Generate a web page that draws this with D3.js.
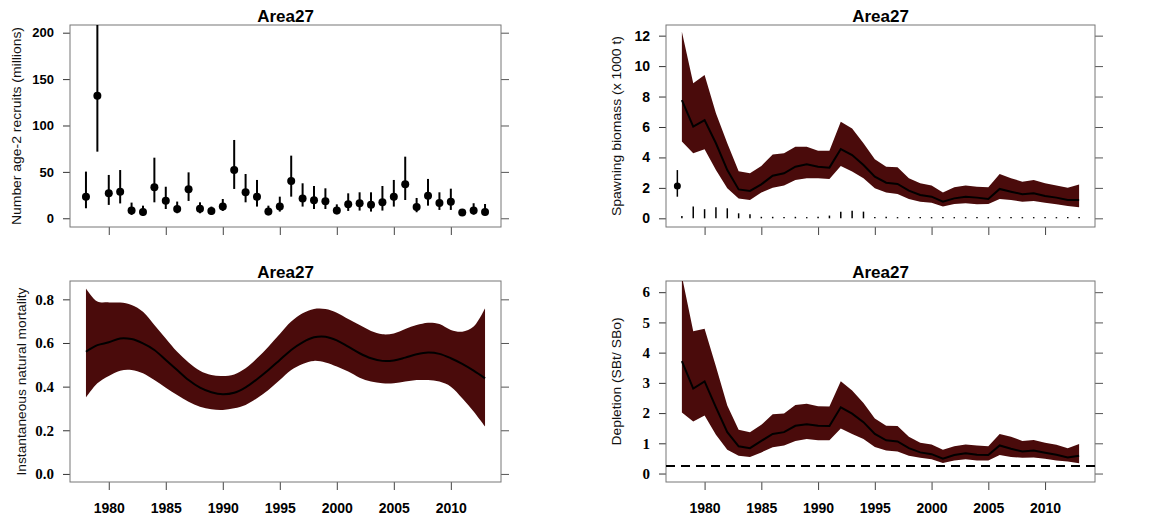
<!DOCTYPE html>
<html>
<head>
<meta charset="utf-8">
<script src="https://cdn.jsdelivr.net/npm/d3@7"></script>
<style>
  body { margin: 0; background: #fff; }
  svg { display: block; }
</style>
</head>
<body>
<svg id="chart" width="1156" height="519"></svg>
<script>
// years shared by every panel
const years = d3.range(1978, 2014);
const xTicks = [1980, 1985, 1990, 1995, 2000, 2005, 2010];

// recruits (millions)
const recMed = [23.3, 132, 27, 28.7, 8.3, 6.8, 33.4, 19, 10, 31.2, 10.4, 7.9, 12.6, 52, 28, 23.3, 7.2, 12.6,
  40.2, 21.2, 19.4, 18.3, 8.3, 15, 16.2, 14.7, 17.2, 23.3, 36.6, 12.2, 24.4, 16.5, 17.9, 6.1, 8.3, 6.8];
const recLo = [10.8, 71.8, 14.4, 16, 3.6, 2.5, 17.2, 10, 5.4, 18.7, 5.4, 3.6, 7.9, 31.6, 17.2, 12.6, 3.2, 7.2,
  23.3, 12.6, 10, 10, 4.3, 7.9, 8.3, 7.2, 8.3, 12.6, 19.7, 6.5, 13.6, 9, 9, 2.9, 3.9, 3.2];
const recHi = [50.3, 260, 46.7, 52, 16.9, 13.6, 65.3, 34, 18, 49.5, 17.2, 12.6, 20.8, 84.4, 47.7, 41.3, 13.6, 23.3,
  67.5, 37.7, 34.8, 32.3, 15, 26.9, 28, 28, 34.8, 41.3, 66.4, 21.9, 42.4, 28, 31.9, 9.7, 16.2, 15.4];
const recTicks = [0, 50, 100, 150, 200];

// spawning biomass (x 1000 t)
const sbMed = [7.77, 6.02, 6.45, 4.93, 3.17, 1.9, 1.8, 2.23, 2.8, 2.96, 3.39, 3.55, 3.39, 3.33, 4.55, 4.16, 3.5, 2.74,
  2.34, 2.26, 1.82, 1.53, 1.42, 1.09, 1.31, 1.42, 1.36, 1.27, 1.93, 1.75, 1.58, 1.64, 1.47, 1.36, 1.2, 1.2];
const sbLo = [5.04, 4.27, 4.53, 3.17, 1.97, 1.31, 1.2, 1.69, 2.01, 2.15, 2.52, 2.63, 2.63, 2.58, 3.44, 3.07, 2.63, 1.97,
  1.69, 1.6, 1.27, 1.09, 1.03, 0.77, 0.94, 0.99, 0.92, 0.94, 1.27, 1.2, 1.09, 1.14, 1.03, 0.92, 0.81, 0.72];
const sbHi = [12.26, 8.87, 9.42, 6.9, 4.93, 3.1, 2.96, 3.44, 4.2, 4.27, 4.7, 4.7, 4.44, 4.44, 6.35, 5.9, 4.93, 3.88,
  3.39, 3.35, 2.63, 2.3, 2.15, 1.7, 2.04, 2.15, 2.08, 2.04, 2.91, 2.63, 2.41, 2.52, 2.3, 2.15, 2.01, 2.23];
const sbCatch = [0.15, 0.77, 0.6, 0.72, 0.66, 0.33, 0.26, 0.1, 0.1, 0.08, 0.1, 0.08, 0.1, 0.18, 0.44, 0.5, 0.44, 0.08,
  0.1, 0.08, 0.08, 0.08, 0.08, 0.08, 0.08, 0.08, 0.08, 0.08, 0.08, 0.08, 0.08, 0.08, 0.08, 0.08, 0.08, 0.08];
const sb0 = { year: 1977.6, value: 2.12, lo: 1.42, hi: 3.17 };
const sbTicks = [0, 2, 4, 6, 8, 10, 12];

// natural mortality
const mMed = [0.56, 0.59, 0.603, 0.621, 0.618, 0.598, 0.568, 0.522, 0.476, 0.43, 0.395, 0.374, 0.365, 0.372, 0.397,
  0.434, 0.476, 0.522, 0.568, 0.603, 0.626, 0.629, 0.612, 0.583, 0.553, 0.53, 0.518, 0.52, 0.533, 0.548, 0.556,
  0.55, 0.53, 0.504, 0.473, 0.438];
const mLo = [0.35, 0.415, 0.449, 0.473, 0.476, 0.461, 0.43, 0.395, 0.362, 0.331, 0.308, 0.296, 0.293, 0.301, 0.316,
  0.347, 0.385, 0.43, 0.476, 0.504, 0.518, 0.511, 0.492, 0.469, 0.441, 0.423, 0.415, 0.415, 0.423, 0.43, 0.43,
  0.423, 0.4, 0.347, 0.286, 0.217];
const mHi = [0.85, 0.79, 0.786, 0.785, 0.774, 0.743, 0.682, 0.621, 0.56, 0.511, 0.473, 0.453, 0.449, 0.456, 0.484,
  0.53, 0.583, 0.641, 0.698, 0.736, 0.756, 0.756, 0.739, 0.71, 0.682, 0.655, 0.64, 0.644, 0.664, 0.682, 0.693,
  0.687, 0.66, 0.652, 0.675, 0.759];
const mTicks = [0, 0.2, 0.4, 0.6, 0.8];

// depletion (SBt / SBo)
const depMed = [3.72, 2.81, 3.05, 2.19, 1.37, 0.9, 0.84, 1.08, 1.31, 1.37, 1.58, 1.63, 1.58, 1.57, 2.19, 1.98, 1.7, 1.31,
  1.1, 1.06, 0.84, 0.7, 0.64, 0.49, 0.61, 0.67, 0.62, 0.61, 0.93, 0.82, 0.73, 0.76, 0.69, 0.62, 0.53, 0.59];
const depLo = [2.02, 1.72, 1.92, 1.28, 0.79, 0.59, 0.55, 0.7, 0.87, 0.93, 1.08, 1.14, 1.1, 1.1, 1.49, 1.31, 1.14, 0.88,
  0.76, 0.73, 0.59, 0.52, 0.47, 0.35, 0.43, 0.47, 0.43, 0.43, 0.61, 0.55, 0.52, 0.53, 0.49, 0.43, 0.4, 0.34];
const depHi = [6.53, 4.71, 4.79, 3.54, 2.25, 1.45, 1.37, 1.61, 1.96, 1.99, 2.27, 2.31, 2.23, 2.22, 3.05, 2.75, 2.33, 1.82,
  1.58, 1.57, 1.22, 1.02, 0.96, 0.79, 0.9, 0.96, 0.93, 0.9, 1.31, 1.22, 1.08, 1.11, 1.02, 0.95, 0.84, 0.98];
const depRef = 0.25;
const depTicks = [0, 1, 2, 3, 4, 5, 6];

const bandColor = "#4a0b0b";
const svg = d3.select("#chart");

// draws one framed panel and returns its scales and group
function panel(opts) {
  const { left, right, top, bottom, yDomain, ticks, yLabel, labelLen, yFont, xLabels } = opts;
  const x = d3.scaleLinear().domain([1976.6, 2014.4]).range([left, right]);
  const y = d3.scaleLinear().domain(yDomain).range([bottom, top]);
  const g = svg.append("g");

  // left axis
  const ya = g.append("g")
    .attr("transform", `translate(${left},0)`)
    .call(d3.axisLeft(y).tickValues(ticks).tickSize(7).tickPadding(9).tickFormat(d3.format("")));
  ya.select(".domain").remove();
  ya.selectAll("text").attr("font-family", yFont.family).attr("font-size", yFont.size)
    .attr("font-weight", "bold").attr("fill", "#000");
  ya.selectAll("line").attr("stroke", "#333");

  // right ticks only
  const yr = g.append("g")
    .attr("transform", `translate(${right},0)`)
    .call(d3.axisRight(y).tickValues(ticks).tickSize(8).tickFormat(""));
  yr.select(".domain").remove();
  yr.selectAll("line").attr("stroke", "#555");

  // bottom axis
  const xa = g.append("g")
    .attr("transform", `translate(0,${bottom})`)
    .call(d3.axisBottom(x).tickValues(xTicks).tickSize(8).tickPadding(13)
      .tickFormat(xLabels ? d3.format("d") : ""));
  xa.select(".domain").remove();
  xa.selectAll("line").attr("stroke", "#444");
  xa.selectAll("text").attr("font-family", "Liberation Sans, Arial, sans-serif")
    .attr("font-size", 14).attr("font-weight", "bold").attr("fill", "#000");

  // frame
  g.append("rect")
    .attr("x", left).attr("y", top)
    .attr("width", right - left).attr("height", bottom - top)
    .attr("fill", "none").attr("stroke", "#777").attr("stroke-width", 1);

  // title
  g.append("text")
    .attr("x", (left + right) / 2).attr("y", top - 3)
    .attr("text-anchor", "middle")
    .attr("font-family", "Liberation Sans, Arial, sans-serif")
    .attr("font-size", 17).attr("font-weight", "bold")
    .text("Area27");

  // y title
  const ly = (top + bottom) / 2;
  g.append("text")
    .attr("transform", `translate(${opts.labelX},${ly}) rotate(-90)`)
    .attr("text-anchor", "middle")
    .attr("font-family", "Liberation Sans, Arial, sans-serif")
    .attr("font-size", 12).attr("fill", "#111")
    .attr("textLength", labelLen).attr("lengthAdjust", "spacingAndGlyphs")
    .text(yLabel);

  const clipId = "clip" + Math.round(left) + "_" + Math.round(top);
  svg.append("clipPath").attr("id", clipId)
    .append("rect").attr("x", left).attr("y", top).attr("width", right - left).attr("height", bottom - top);
  const plot = g.append("g").attr("clip-path", `url(#${clipId})`);
  return { x, y, g, plot };
}

function band(p, lo, hi, med, curve) {
  const area = d3.area()
    .x((d, i) => p.x(years[i]))
    .y0((d, i) => p.y(lo[i]))
    .y1((d, i) => p.y(hi[i]))
    .curve(curve);
  p.plot.append("path").datum(years).attr("d", area).attr("fill", bandColor);
  const line = d3.line()
    .x((d, i) => p.x(years[i]))
    .y(d => p.y(d))
    .curve(curve);
  p.plot.append("path").datum(med).attr("d", line)
    .attr("fill", "none").attr("stroke", "#000").attr("stroke-width", 2);
}

// panel 1: recruits
const p1 = panel({
  left: 70, right: 501, top: 25, bottom: 227, yDomain: [-9.4, 208.3], ticks: recTicks,
  yLabel: "Number age-2 recruits (millions)", labelLen: 198, labelX: 21,
  yFont: { family: "Liberation Sans, Arial, sans-serif", size: 13 }, xLabels: false
});
p1.plot.selectAll("line.err").data(years).join("line")
  .attr("x1", d => p1.x(d)).attr("x2", d => p1.x(d))
  .attr("y1", (d, i) => p1.y(recLo[i])).attr("y2", (d, i) => p1.y(recHi[i]))
  .attr("stroke", "#000").attr("stroke-width", 2);
p1.plot.selectAll("circle").data(years).join("circle")
  .attr("cx", d => p1.x(d)).attr("cy", (d, i) => p1.y(recMed[i]))
  .attr("r", 4).attr("fill", "#000");

// panel 2: spawning biomass
const p2 = panel({
  left: 666, right: 1095, top: 25, bottom: 227, yDomain: [-0.57, 12.7], ticks: sbTicks,
  yLabel: "Spawning biomass (x 1000 t)", labelLen: 180, labelX: 621,
  yFont: { family: "Liberation Sans, Arial, sans-serif", size: 14 }, xLabels: false
});
band(p2, sbLo, sbHi, sbMed, d3.curveLinear);
p2.plot.selectAll("line.catch").data(years).join("line")
  .attr("x1", d => p2.x(d)).attr("x2", d => p2.x(d))
  .attr("y1", p2.y(0)).attr("y2", (d, i) => p2.y(sbCatch[i]))
  .attr("stroke", "#000").attr("stroke-width", 1.5);
p2.plot.append("line")
  .attr("x1", p2.x(sb0.year)).attr("x2", p2.x(sb0.year))
  .attr("y1", p2.y(sb0.lo)).attr("y2", p2.y(sb0.hi))
  .attr("stroke", "#000").attr("stroke-width", 1.5);
p2.plot.append("circle")
  .attr("cx", p2.x(sb0.year)).attr("cy", p2.y(sb0.value)).attr("r", 3.5).attr("fill", "#000");

// panel 3: natural mortality
const p3 = panel({
  left: 70, right: 501, top: 281, bottom: 482, yDomain: [-0.037, 0.884], ticks: mTicks,
  yLabel: "Instantaneous natural mortality", labelX: 26, labelLen: 188,
  yFont: { family: "Liberation Serif, Times New Roman, serif", size: 15 }, xLabels: true
});
p3.g.selectAll(".tick text").filter(function () { return this.parentNode.parentNode.getAttribute("transform").startsWith("translate(70"); })
  .text(d => d3.format(".1f")(d));
band(p3, mLo, mHi, mMed, d3.curveCatmullRom);

// panel 4: depletion
const p4 = panel({
  left: 666, right: 1095, top: 281, bottom: 482, yDomain: [-0.28, 6.37], ticks: depTicks,
  yLabel: "Depletion (SBt/ SBo)", labelX: 621, labelLen: 128,
  yFont: { family: "Liberation Serif, Times New Roman, serif", size: 15 }, xLabels: true
});
band(p4, depLo, depHi, depMed, d3.curveLinear);
p4.plot.append("line")
  .attr("x1", 666).attr("x2", 1095)
  .attr("y1", p4.y(depRef)).attr("y2", p4.y(depRef))
  .attr("stroke", "#000").attr("stroke-width", 2).attr("stroke-dasharray", "9,6");
</script>
</body>
</html>
